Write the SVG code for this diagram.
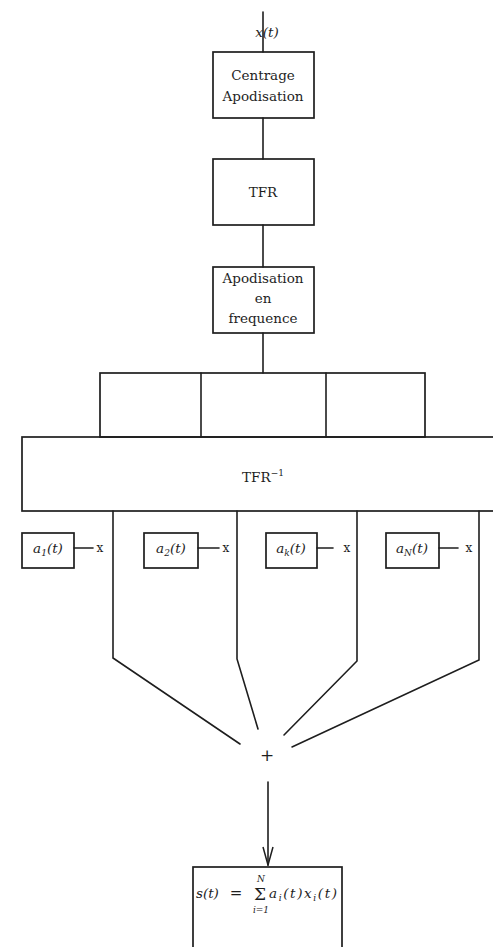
<svg xmlns="http://www.w3.org/2000/svg" width="493" height="947" viewBox="0 0 493 947">
<style>
.box{fill:none;stroke:#1e1e1e;stroke-width:1.7}
.ln{fill:none;stroke:#1e1e1e;stroke-width:1.6;stroke-linecap:round}
text{font-family:"DejaVu Serif","Liberation Serif",serif;fill:#1e1e1e}
.t{font-size:13.5px}
.c{text-anchor:middle}
.m{font-style:italic;font-size:13.5px}
.sub{font-size:9px}
.x{font-size:12px}
.sm{font-style:italic;font-size:9px}
</style>
<defs>
<marker id="arr" viewBox="0 0 20 12" refX="19" refY="6" markerWidth="20" markerHeight="12" markerUnits="userSpaceOnUse" orient="auto">
<path d="M1,1 L19,6 L1,11" fill="none" stroke="#1e1e1e" stroke-width="1.5"/>
</marker>
</defs>
<rect width="493" height="947" fill="#fff"/>
<g id="connectors">
<line class="ln" x1="263" y1="12" x2="263" y2="52"/>
<line class="ln" x1="263" y1="118" x2="263" y2="159"/>
<line class="ln" x1="263" y1="225" x2="263" y2="267"/>
<line class="ln" x1="263" y1="333" x2="263" y2="373"/>
<polyline class="ln" points="113,511 113,658 240,744"/>
<polyline class="ln" points="237,511 237,659 258,729"/>
<polyline class="ln" points="357,511 357,661 284,735"/>
<polyline class="ln" points="479,511 479,660 292,747"/>
<line class="ln" x1="74" y1="548" x2="93" y2="548"/>
<line class="ln" x1="198" y1="548" x2="219" y2="548"/>
<line class="ln" x1="317" y1="548" x2="333" y2="548"/>
<line class="ln" x1="439" y1="548" x2="458" y2="548"/>
<line class="ln" x1="268" y1="782" x2="268" y2="865" marker-end="url(#arr)"/>
</g>
<g id="input">
<text class="c m" x="267" y="37">x(t)</text>
</g>
<g id="centrage">
<rect class="box" x="213" y="52" width="101" height="66"/>
<text class="c t" x="263" y="80">Centrage</text>
<text class="c t" x="263" y="101">Apodisation</text>
</g>
<g id="tfr">
<rect class="box" x="213" y="159" width="101" height="66"/>
<text class="c t" x="263" y="197">TFR</text>
</g>
<g id="apodisation-freq">
<rect class="box" x="213" y="267" width="101" height="66"/>
<text class="c t" x="263" y="283">Apodisation</text>
<text class="c t" x="263" y="303">en</text>
<text class="c t" x="263" y="323">frequence</text>
</g>
<g id="filters">
<rect class="box" x="100" y="373" width="325" height="64"/>
<line class="ln" x1="201" y1="373" x2="201" y2="437"/>
<line class="ln" x1="326" y1="373" x2="326" y2="437"/>
</g>
<g id="tfr-inv">
<rect class="box" x="22" y="437" width="480" height="74"/>
<text class="c t" x="263" y="482">TFR<tspan class="sub" dy="-6">−1</tspan></text>
</g>
<g id="a1">
<rect class="box" x="22" y="533" width="52" height="35"/>
<text class="c m" x="48" y="553">a<tspan class="sub" dy="3">1</tspan><tspan dy="-3">(t)</tspan></text>
<text class="c x" x="100" y="552">x</text>
</g>
<g id="a2">
<rect class="box" x="144" y="533" width="54" height="35"/>
<text class="c m" x="171" y="553">a<tspan class="sub" dy="3">2</tspan><tspan dy="-3">(t)</tspan></text>
<text class="c x" x="226" y="552">x</text>
</g>
<g id="ak">
<rect class="box" x="266" y="533" width="51" height="35"/>
<text class="c m" x="291" y="553">a<tspan class="sub" dy="3">k</tspan><tspan dy="-3">(t)</tspan></text>
<text class="c x" x="347" y="552">x</text>
</g>
<g id="aN">
<rect class="box" x="386" y="533" width="53" height="35"/>
<text class="c m" x="412" y="553">a<tspan class="sub" dy="3">N</tspan><tspan dy="-3">(t)</tspan></text>
<text class="c x" x="469" y="552">x</text>
</g>
<g id="sum">
<text class="c" x="267" y="761" font-size="17">+</text>
</g>
<g id="output">
<rect class="box" x="193" y="867" width="149" height="90"/>
<text class="m" x="196" y="898">s(t)</text>
<text class="c" x="236" y="898" style="font-size:15px">=</text>
<text class="c" x="260" y="900" style="font-size:17px">Σ</text>
<text class="c sm" x="261" y="882">N</text>
<text class="c sm" x="261" y="913">i=1</text>
<text class="m" x="269" y="898" textLength="68" lengthAdjust="spacing">a<tspan class="sub" dy="3">i</tspan><tspan dy="-3">(t)x</tspan><tspan class="sub" dy="3">i</tspan><tspan dy="-3">(t)</tspan></text>
</g>
</svg>
